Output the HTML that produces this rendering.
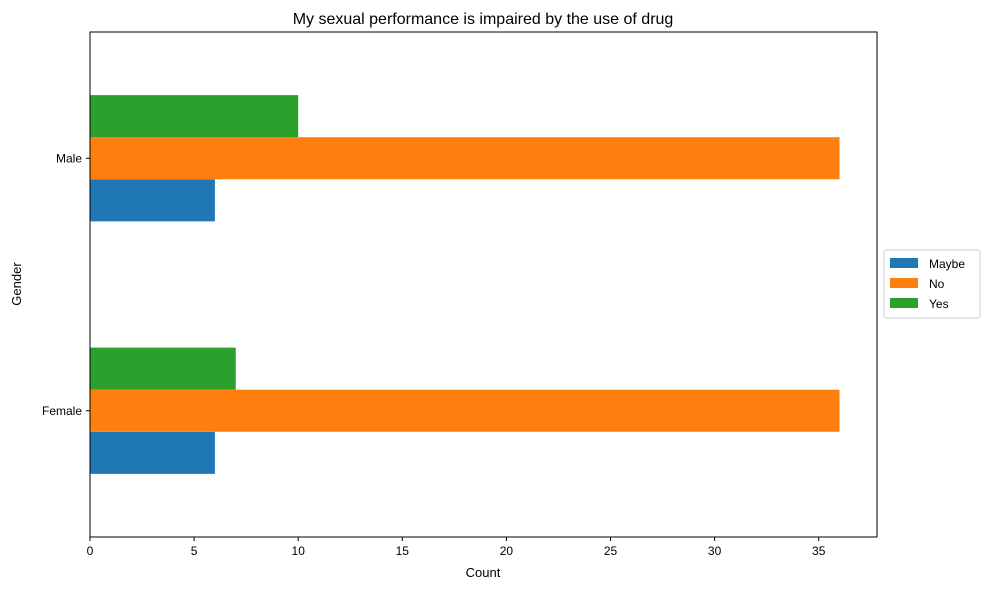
<!DOCTYPE html>
<html><head><meta charset="utf-8"><style>
body{margin:0;background:#fff;font-family:"Liberation Sans","DejaVu Sans",sans-serif;}
</style></head><body>
<svg id="chart" width="989" height="590" xmlns="http://www.w3.org/2000/svg">
<text x="483" y="24" text-anchor="middle" font-size="16" fill="#000">My sexual performance is impaired by the use of drug</text>
<g id="bars"></g>
<rect x="90" y="32" width="787" height="505" fill="none" stroke="#000" stroke-width="1"/>
<g id="xticks"></g><g id="yticks"></g>
<text x="483" y="577" text-anchor="middle" font-size="13">Count</text>
<text transform="translate(21,284) rotate(-90)" text-anchor="middle" font-size="13">Gender</text>
<g id="legend">
<rect x="884" y="250" width="96" height="68" fill="#fff" stroke="#ccc" rx="2"/>
</g>
</svg>
<script>
const categories=["Female","Male"];
const seriesNames=["Maybe","No","Yes"];
const maybeVals=[6,6];
const noVals=[36,36];
const yesVals=[7,10];
const xTicks=[0,5,10,15,20,25,30,35];
const colors=["#1f77b4","#ff7f0e","#2ca02c"];
const NS="http://www.w3.org/2000/svg";
const L=90,R=877,T=32,B=537,xmax=37.8;
const x=v=>L+v/xmax*(R-L);
const y=v=>B-(v+0.5)/2*(B-T);
const series=[maybeVals,noVals,yesVals];
const bw=0.5/3;
const bars=document.getElementById('bars');
series.forEach((vals,si)=>{vals.forEach((v,ci)=>{
 const r=document.createElementNS(NS,'rect');
 const c=ci-0.25+si*bw;
 r.setAttribute('x',x(0));r.setAttribute('width',x(v)-x(0));
 r.setAttribute('y',y(c+bw));r.setAttribute('height',y(c)-y(c+bw));
 r.setAttribute('fill',colors[si]);
 
 
 bars.appendChild(r);});});
const xt=document.getElementById('xticks');
xTicks.forEach(t=>{
 const l=document.createElementNS(NS,'line');
 l.setAttribute('x1',x(t));l.setAttribute('x2',x(t));l.setAttribute('y1',B);l.setAttribute('y2',B+4);l.setAttribute('stroke','#000');
 
 
 xt.appendChild(l);
 const s=document.createElementNS(NS,'text');
 s.setAttribute('x',x(t));s.setAttribute('y',B+18);s.setAttribute('text-anchor','middle');s.setAttribute('font-size','12');s.textContent=t;
 
 
 xt.appendChild(s);});
const yt=document.getElementById('yticks');
categories.forEach((c,i)=>{
 const l=document.createElementNS(NS,'line');
 l.setAttribute('x1',L-4);l.setAttribute('x2',L);l.setAttribute('y1',y(i));l.setAttribute('y2',y(i));l.setAttribute('stroke','#000');
 
 
 yt.appendChild(l);
 const s=document.createElementNS(NS,'text');
 s.setAttribute('x',L-8);s.setAttribute('y',y(i)+4);s.setAttribute('text-anchor','end');s.setAttribute('font-size','12');s.textContent=c;
 
 
 yt.appendChild(s);});
const lg=document.getElementById('legend');
seriesNames.forEach((n,i)=>{
 const r=document.createElementNS(NS,'rect');
 r.setAttribute('x',890);r.setAttribute('y',258+i*20);r.setAttribute('width',28);r.setAttribute('height',10);r.setAttribute('fill',colors[i]);
 
 
 lg.appendChild(r);
 const s=document.createElementNS(NS,'text');
 s.setAttribute('x',929);s.setAttribute('y',268+i*20);s.setAttribute('font-size','12');s.textContent=n;
 
 
 lg.appendChild(s);});
</script>
</body></html>
